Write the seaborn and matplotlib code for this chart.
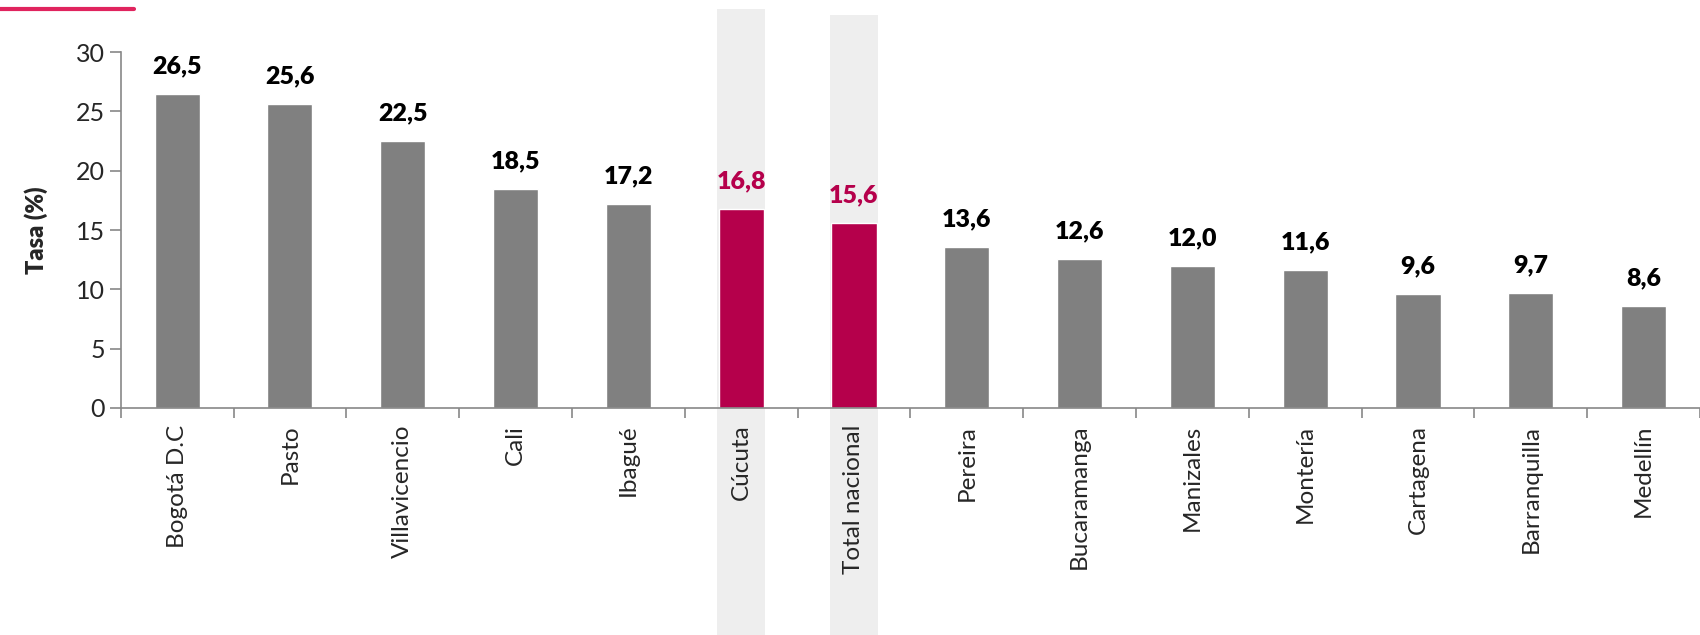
import matplotlib
matplotlib.use("Agg")
import matplotlib.pyplot as plt
import matplotlib.transforms as mtransforms
from matplotlib.patches import Rectangle
from matplotlib.ticker import FixedLocator
import pandas as pd
import seaborn as sns

# datos
ciudades = ["Bogotá D.C", "Pasto", "Villavicencio", "Cali", "Ibagué", "Cúcuta",
            "Total nacional", "Pereira", "Bucaramanga", "Manizales", "Montería",
            "Cartagena", "Barranquilla", "Medellín"]
tasas = [26.5, 25.6, 22.5, 18.5, 17.2, 16.8, 15.6, 13.6, 12.6, 12.0, 11.6, 9.6, 9.7, 8.6]
destacadas = ["Cúcuta", "Total nacional"]

GRIS = "#808080"
ROJO = "#B5004B"
FONDO = "#EEEEEE"

df = pd.DataFrame({"ciudad": ciudades, "tasa": tasas})
paleta = {c: (ROJO if c in destacadas else GRIS) for c in ciudades}

sns.set_style("white")
plt.rcParams["font.family"] = ["Lato", "DejaVu Sans"]

fig = plt.figure(figsize=(17, 6.35), dpi=100)
ax = fig.add_axes([0.071, 0.3575, 0.929, 0.5605])

sns.barplot(data=df, x="ciudad", y="tasa", hue="ciudad", palette=paleta,
            width=0.4, saturation=1, legend=False, ax=ax, zorder=3)

# franjas grises detrás de las barras destacadas
trans = mtransforms.blended_transform_factory(ax.transData, fig.transFigure)
tops = {"Cúcuta": 0.986, "Total nacional": 0.976}
for c in destacadas:
    i = ciudades.index(c)
    ax.add_patch(Rectangle((i - 0.21, 0), 0.42, tops[c], transform=trans,
                           facecolor=FONDO, edgecolor="none", zorder=0, clip_on=False))

# etiquetas de valor
for i, (c, v) in enumerate(zip(ciudades, tasas)):
    color = ROJO if c in destacadas else "black"
    ax.text(i, v + 1.4, f"{v:.1f}".replace(".", ","), ha="center", va="bottom",
            fontsize=18, fontweight="heavy", color=color, zorder=4)

ax.set_ylim(0, 30)
ax.set_xlim(-0.5, len(ciudades) - 0.5)
ax.set_yticks(range(0, 31, 5))
ax.set_xticks(range(len(ciudades)))
ax.set_xticklabels(ciudades, rotation=90, fontsize=17.5)
ax.xaxis.set_minor_locator(FixedLocator([i - 0.5 for i in range(len(ciudades) + 1)]))
ax.tick_params(axis="x", which="major", bottom=False, length=0, pad=12)
ax.tick_params(axis="x", which="minor", bottom=True, length=7, width=1.2,
               color="#888888", direction="out")
ax.tick_params(axis="y", left=True, length=8, width=1.2, color="#888888",
               labelsize=18, direction="out")
ax.set_xlabel("")
ax.set_ylabel("Tasa (%)", fontsize=17, fontweight="heavy", labelpad=20)
ax.patch.set_alpha(0)

for s in ["top", "right"]:
    ax.spines[s].set_visible(False)
for s in ["left", "bottom"]:
    ax.spines[s].set_color("#888888")
    ax.spines[s].set_linewidth(1.2)
    ax.spines[s].set_zorder(5)

# línea roja decorativa arriba a la izquierda
fig.add_artist(plt.Line2D([0, 0.079], [0.986, 0.986], transform=fig.transFigure,
                          color="#E0245E", linewidth=3))

fig.savefig("out.png", dpi=100)
